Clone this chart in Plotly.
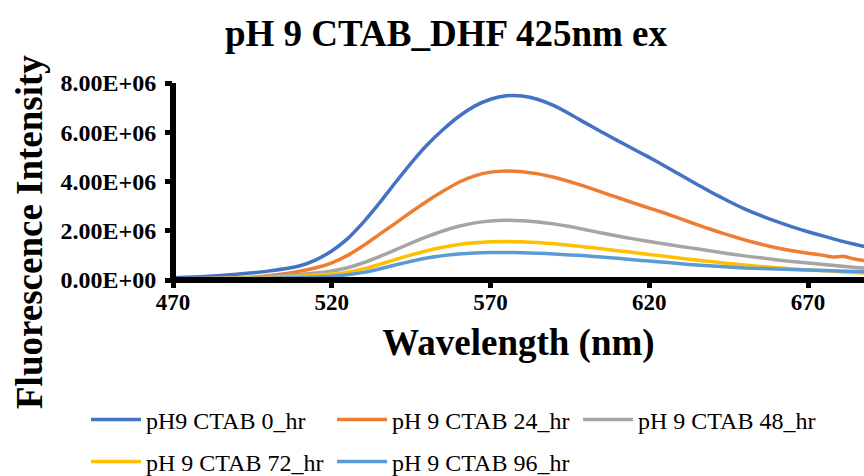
import plotly.graph_objects as go

# Emission wavelengths (nm)
wavelength = [470, 480, 490, 500, 510, 515, 520, 525, 530, 535, 540, 545, 550, 555,
              560, 565, 570, 575, 580, 585, 590, 595, 600, 605, 610, 615, 620, 625,
              630, 635, 640, 645, 650, 655, 660, 665, 670, 675, 680, 685, 690]

# Fluorescence intensity (x10^6 counts) for each incubation time
int_0hr = [0.09, 0.14, 0.23, 0.36, 0.58, 0.82, 1.18, 1.68, 2.35, 3.12, 3.95, 4.75, 5.48, 6.10,
           6.64, 7.06, 7.34, 7.48, 7.47, 7.33, 7.08, 6.74, 6.37, 6.01, 5.66, 5.32, 4.98, 4.62,
           4.25, 3.89, 3.53, 3.20, 2.89, 2.62, 2.38, 2.16, 1.96, 1.78, 1.60, 1.44, 1.30]

wavelength_24 = [479, 485, 490, 500, 510, 515, 520, 525, 530, 535, 540, 545, 550, 555,
                 560, 565, 570, 575, 580, 585, 590, 595, 600, 605, 610, 615, 620, 625,
                 630, 635, 640, 645, 650, 655, 660, 665, 670, 675, 678, 681, 685, 690]
int_24hr = [-0.05, 0.01, 0.05, 0.17, 0.36, 0.50, 0.70, 1.00, 1.40, 1.85, 2.30, 2.76, 3.20, 3.60,
            3.97, 4.23, 4.38, 4.43, 4.40, 4.31, 4.17, 3.99, 3.79, 3.57, 3.35, 3.13, 2.92, 2.71,
            2.48, 2.25, 2.03, 1.82, 1.63, 1.46, 1.31, 1.19, 1.09, 1.00, 0.93, 0.96, 0.84, 0.76]

int_48hr = [0.05, 0.07, 0.09, 0.14, 0.22, 0.28, 0.37, 0.50, 0.70, 0.95, 1.22, 1.50, 1.76, 1.99,
            2.18, 2.32, 2.40, 2.43, 2.41, 2.36, 2.28, 2.17, 2.04, 1.91, 1.79, 1.67, 1.56, 1.46,
            1.36, 1.27, 1.17, 1.07, 0.98, 0.90, 0.82, 0.75, 0.69, 0.63, 0.57, 0.51, 0.46]

int_72hr = [0.04, 0.05, 0.07, 0.10, 0.15, 0.19, 0.24, 0.32, 0.45, 0.63, 0.83, 1.02, 1.19, 1.33,
            1.44, 1.51, 1.55, 1.56, 1.55, 1.52, 1.47, 1.41, 1.34, 1.27, 1.19, 1.12, 1.04, 0.96,
            0.88, 0.81, 0.74, 0.67, 0.61, 0.55, 0.50, 0.45, 0.41, 0.38, 0.34, 0.30, 0.27]

int_96hr = [0.03, 0.04, 0.05, 0.07, 0.10, 0.12, 0.15, 0.21, 0.31, 0.45, 0.61, 0.76, 0.89, 0.99,
            1.06, 1.10, 1.12, 1.12, 1.11, 1.09, 1.06, 1.02, 0.98, 0.93, 0.88, 0.82, 0.77, 0.72,
            0.66, 0.61, 0.57, 0.53, 0.49, 0.47, 0.45, 0.43, 0.41, 0.39, 0.37, 0.35, 0.34]

series_names = ["pH9 CTAB 0_hr", "pH 9 CTAB 24_hr", "pH 9 CTAB 48_hr",
                "pH 9 CTAB 72_hr", "pH 9 CTAB 96_hr"]
series_colors = ["#4472C4", "#ED7D31", "#A5A5A5", "#FFC000", "#5B9BD5"]
# legend row each series is listed in
series_legend = ["legend", "legend", "legend", "legend2", "legend2"]

y_tickvals = [0, 2e6, 4e6, 6e6, 8e6]
y_ticktext = ["0.00E+00", "2.00E+06", "4.00E+06", "6.00E+06", "8.00E+06"]
x_tickvals = [470, 520, 570, 620, 670]

SERIF = "Liberation Serif"
SCALE = 1e6

fig = go.Figure()
series = [
    (wavelength, int_0hr),
    (wavelength_24, int_24hr),
    (wavelength, int_48hr),
    (wavelength, int_72hr),
    (wavelength, int_96hr),
]
for (wl, vals), name, color, leg in zip(series, series_names, series_colors, series_legend):
    fig.add_trace(go.Scatter(
        x=wl, y=[v * SCALE for v in vals], name=name, mode="lines", legend=leg,
        line=dict(color=color, width=3.5, shape="spline", smoothing=0.5),
    ))

legend_style = dict(orientation="h", xanchor="left", yanchor="middle",
                    entrywidth=181, entrywidthmode="pixels",
                    font=dict(size=24, family=SERIF, color="black"),
                    itemwidth=50, bgcolor="rgba(0,0,0,0)")

fig.update_layout(
    width=864, height=476,
    margin=dict(l=173, r=0, t=83, b=196, autoexpand=False),
    paper_bgcolor="white", plot_bgcolor="white",
    font=dict(family=SERIF, color="black"),
    title=dict(text="<b>pH 9 CTAB_DHF 425nm ex</b>", x=446 / 864, xanchor="center",
               y=1 - 33 / 476, yanchor="middle", yref="container",
               font=dict(size=37, family=SERIF, color="black")),
    showlegend=True,
    legend=dict(x=(86 - 173) / 691, y=(280 - 420) / 197, **legend_style),
    legend2=dict(x=(86 - 173) / 691, y=(280 - 462) / 197, **legend_style),
)

fig.update_xaxes(
    range=[470, 470 + 691 / 3.175], tickvals=x_tickvals,
    ticks="outside", ticklen=7, tickwidth=5, tickcolor="black",
    showline=False, showgrid=False, zeroline=False,
    tickfont=dict(size=23, family=SERIF, color="black"),
    ticktext=["<b>%d</b>" % v for v in x_tickvals],
    ticklabelstandoff=-6,
    title=dict(text="<b>Wavelength (nm)</b>", standoff=15,
               font=dict(size=37, family=SERIF, color="black")),
)
fig.update_yaxes(
    range=[0, 8e6], tickvals=y_tickvals, ticktext=["<b>%s</b>" % t for t in y_ticktext],
    ticks="outside", ticklen=7, tickwidth=5, tickcolor="black",
    showline=False, showgrid=False, zeroline=False,
    tickfont=dict(size=24, family=SERIF, color="black"),
    ticklabelstandoff=4,
)

# Axis lines centred on the plot edges
fig.add_shape(type="line", xref="paper", yref="paper", x0=0, x1=0, y0=-0.015, y1=1,
              line=dict(color="black", width=6), layer="above")
fig.add_shape(type="line", xref="paper", yref="paper", x0=-0.004, x1=1, y0=0, y1=0,
              line=dict(color="black", width=6), layer="above")

fig.add_annotation(text="<b>Fluorescence Intensity</b>", xref="paper", yref="paper",
                   x=(29 - 173) / 691, y=(280 - 232) / 197, textangle=-90,
                   showarrow=False, xanchor="center", yanchor="middle",
                   font=dict(size=37, family=SERIF, color="black"))

fig.write_html("out.html")
